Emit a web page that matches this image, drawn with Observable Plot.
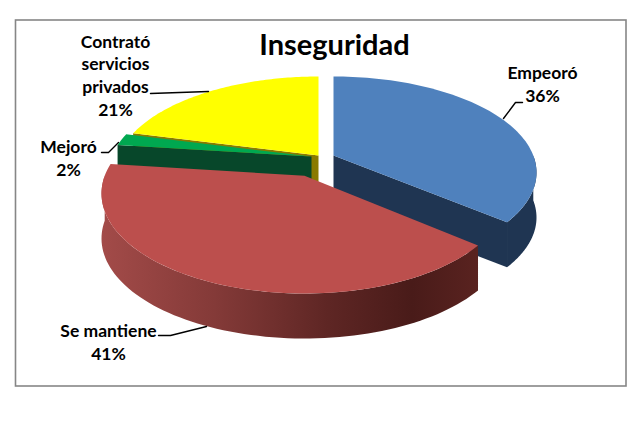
<!DOCTYPE html>
<html><head><meta charset="utf-8">
<script src="https://cdn.jsdelivr.net/npm/d3@7"></script>
<script src="https://cdn.jsdelivr.net/npm/@observablehq/plot@0.6"></script>
<style>html,body{margin:0;padding:0;background:#fff}svg{display:block}</style>
</head><body><div id="chart"></div>
<script>
const categories = ["Empeoró", "Se mantiene", "Mejoró", "Contrató\nservicios\nprivados"];
const values = [36, 41, 2, 21];

// Presentation of the 3D pie: pixel-space ellipse centre for each exploded slice
const centersX = [333, 304, 311, 318];
const centersY = [172, 193, 173, 172];
const radiiX = [203, 203, 203, 203];
const radiiY = [96, 100, 96, 96];
const skew = -0.177;   // perspective shift of the disc centre
const depth = 45;
const topColors = ["#4f81bd", "#bc4f4d", "#00a850", "#ffff00"];
const wallColors = ["#1f3552", "url(#redWall)", "#07472a", "#8a7a00"];

const labelX = [542, 108, 68, 115];
const labelY = [83, 341, 156.5, 74];
const leaders = [
  [[503,118],[515,102],[522,102]],
  [[158,335],[170,335],[206,326]],
  [[101,152],[108,152],[118,142]],
  [[150,93],[208,91]]
];

const pie = d3.pie().sort(null).value(d => d)(values);
function proj(i, a, r, dz = 0) {
  const u = r * Math.sin(a), v = -r * Math.cos(a);
  const den = 1 + skew * v;
  return [
    centersX[i] + radiiX[i] * u * Math.sqrt(1 - skew * skew) / den,
    centersY[i] + radiiY[i] * (v + skew) / den + dz
  ];
}
function arcPts(i, a0, a1, dz = 0) {
  return d3.range(0, 81).map(k => proj(i, a0 + (a1 - a0) * k / 80, 1, dz));
}
const topFace = i => [proj(i, 0, 0), ...arcPts(i, pie[i].startAngle, pie[i].endAngle)];
const outerWall = (i, a0, a1) => [...arcPts(i, a0, a1), ...arcPts(i, a0, a1, depth).reverse()];
const cutWall = (i, a) => [proj(i, 0, 0), proj(i, a, 1), proj(i, a, 1, depth), proj(i, 0, 0, depth)];
const poly = (pts, fill) => Plot.line(pts, {x: d => d[0], y: d => d[1], fill, stroke: "none"});

const gradient = () => {
  const g = d3.create("svg:defs");
  const lg = g.append("linearGradient").attr("id", "redWall")
    .attr("gradientUnits", "userSpaceOnUse")
    .attr("x1", 100).attr("x2", 480).attr("y1", 0).attr("y2", 0);
  [[0, "#a34b49"], [0.3, "#843a38"], [0.6, "#5e2624"], [0.82, "#491b19"], [1, "#5a2320"]]
    .forEach(([o, c]) => lg.append("stop").attr("offset", o).attr("stop-color", c));
  return g.node();
};

const marks = [
  gradient,
  Plot.rect([0], {x1: () => 15.5, x2: () => 626, y1: () => 20, y2: () => 386, fill: "#fff", stroke: "#868686", strokeWidth: 1.6}),
  // Empeoró
  poly(outerWall(0, Math.PI / 2, pie[0].endAngle), wallColors[0]),
  poly(cutWall(0, pie[0].endAngle), wallColors[0]),
  poly(topFace(0), topColors[0]),
  // Contrató
  poly(cutWall(3, pie[3].startAngle), wallColors[3]),
  poly(cutWall(3, pie[3].endAngle), wallColors[3]),
  poly(topFace(3), topColors[3]),
  // Mejoró
  poly(cutWall(2, pie[2].startAngle), wallColors[2]),
  poly(topFace(2), topColors[2]),
  // Se mantiene
  poly(outerWall(1, pie[1].startAngle, 1.5 * Math.PI), wallColors[1]),
  poly(topFace(1), topColors[1]),
  // Leaders
  ...leaders.map(l => Plot.line(l, {x: d => d[0], y: d => d[1], stroke: "#000", strokeWidth: 1.4})),
  // Labels
  Plot.text(categories.map((c, i) => ({t: `${c}\n${values[i]}%`, x: labelX[i], y: labelY[i]})),
    {x: "x", y: "y", text: "t", fontSize: 17.5, fontWeight: 700, fill: "#000", lineHeight: 1.3, fontFamily: "Lato"}),
  Plot.text(["Inseguridad"], {x: () => 334, y: () => 45, text: d => d, fontSize: 29, fontWeight: 700, fill: "#000", fontFamily: "Lato"})
];

const chart = Plot.plot({
  width: 642, height: 429,
  margin: 0,
  x: {domain: [0, 642], range: [0, 642], axis: null},
  y: {domain: [0, 429], range: [0, 429], axis: null},
  style: {background: "#fff"},
  marks
});
document.getElementById("chart").append(chart);
</script></body></html>
